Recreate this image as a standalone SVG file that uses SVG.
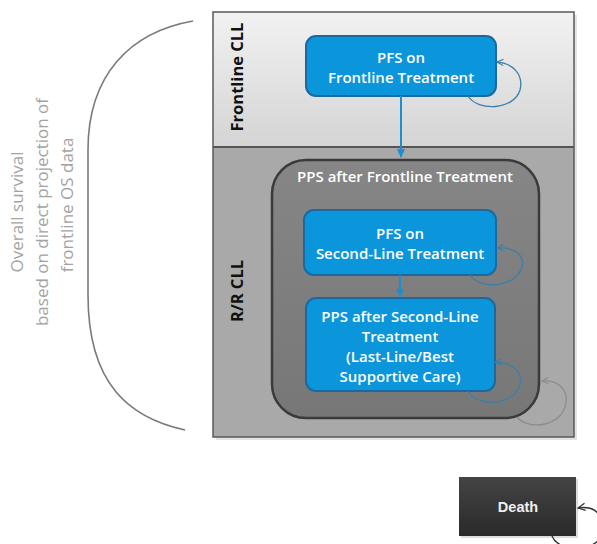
<svg xmlns="http://www.w3.org/2000/svg" width="597" height="544" viewBox="0 0 597 544">
<defs>
<linearGradient id="gFront" x1="0" y1="0" x2="0" y2="1"><stop offset="0" stop-color="#f2f2f2"/><stop offset="1" stop-color="#d4d4d4"/></linearGradient>
<linearGradient id="gInner" x1="0" y1="0" x2="0" y2="1"><stop offset="0" stop-color="#868686"/><stop offset="1" stop-color="#777"/></linearGradient>
<linearGradient id="gDeath" x1="0" y1="0" x2="0" y2="1"><stop offset="0" stop-color="#444"/><stop offset="1" stop-color="#2a2a2a"/></linearGradient>
<marker id="aBlue" viewBox="0 0 10 10" refX="8" refY="5" markerWidth="5" markerHeight="5" orient="auto"><path d="M0,1 L9,5 L0,9 Z" fill="#1b8fd2"/></marker>
<marker id="oBlue" viewBox="0 0 10 10" refX="9" refY="5" markerWidth="8" markerHeight="8" orient="auto" markerUnits="userSpaceOnUse"><path d="M1,1 L9,5 L1,9" fill="none" stroke="#3b7fa8" stroke-width="1.4"/></marker>
<marker id="oGray" viewBox="0 0 10 10" refX="9" refY="5" markerWidth="8" markerHeight="8" orient="auto" markerUnits="userSpaceOnUse"><path d="M1,1 L9,5 L1,9" fill="none" stroke="#8c8c8c" stroke-width="1.4"/></marker>
<marker id="oDark" viewBox="0 0 10 10" refX="9" refY="5" markerWidth="9" markerHeight="9" orient="auto" markerUnits="userSpaceOnUse"><path d="M1,1 L9,5 L1,9" fill="none" stroke="#333" stroke-width="1.4"/></marker>
</defs>
<style>
.box{fill:#0b95db;stroke:#1a69a0;stroke-width:2}
.bt{font-family:"Open Sans","Noto Sans",sans-serif;font-size:15px;font-weight:600;fill:#fff;text-anchor:middle}
.lbl{font-family:"Open Sans","Noto Sans",sans-serif;font-size:16.5px;font-weight:bold;fill:#111;text-anchor:middle}
.side{font-family:"Open Sans","Noto Sans",sans-serif;font-size:17px;fill:#a3a3a3;text-anchor:middle}
.loopB{fill:none;stroke:#3b7fa8;stroke-width:1.3}
</style>
<rect width="597" height="544" fill="#fff"/>

<g id="bracket">
<path d="M193,21 C130,32 88,75 88,150 L88,295 C88,385 130,418 185,430" fill="none" stroke="#7a7a7a" stroke-width="1.6"/>
<text class="side" transform="translate(23,212) rotate(-90)">Overall survival</text>
<text class="side" transform="translate(48,212) rotate(-90)">based on direct projection of</text>
<text class="side" transform="translate(73,205) rotate(-90)">frontline OS data</text>
</g>

<g id="frame">
<rect x="216" y="15" width="361" height="425" fill="#d0d0d0" opacity="0.6"/>
<rect x="213" y="12" width="361" height="135" fill="url(#gFront)"/>
<rect x="213" y="147" width="361" height="290" fill="#a9a9a9"/>
<rect x="213" y="12" width="361" height="425" fill="none" stroke="#5a5a5a" stroke-width="1.5"/>
<line x1="213" y1="147" x2="574" y2="147" stroke="#555" stroke-width="2.2"/>
<text class="lbl" transform="translate(243,77) rotate(-90)">Frontline CLL</text>
<text class="lbl" transform="translate(243,291) rotate(-90)">R/R CLL</text>
</g>

<g id="pps-frontline">
<rect x="272" y="160" width="267" height="258" rx="34" fill="url(#gInner)" stroke="#3a3a3a" stroke-width="2.5"/>
<text class="bt" x="405" y="182">PPS after Frontline Treatment</text>
</g>

<g id="pfs-frontline">
<rect class="box" x="306" y="36" width="190" height="60" rx="10"/>
<text class="bt" x="401" y="63">PFS on</text>
<text class="bt" x="401" y="83">Frontline Treatment</text>
</g>

<g id="pfs-second">
<rect class="box" x="304" y="210" width="192" height="65" rx="10"/>
<text class="bt" x="400" y="239">PFS on</text>
<text class="bt" x="400" y="259">Second-Line Treatment</text>
</g>

<g id="pps-second">
<rect class="box" x="306" y="298" width="189" height="93" rx="10"/>
<text class="bt" x="400" y="322">PPS after Second-Line</text>
<text class="bt" x="400" y="342">Treatment</text>
<text class="bt" x="400" y="362">(Last-Line/Best</text>
<text class="bt" x="400" y="382">Supportive Care)</text>
</g>

<g id="death">
<rect x="461" y="479" width="117" height="59" fill="#bbb" opacity="0.5"/>
<rect x="459" y="477" width="117" height="59" fill="url(#gDeath)"/>
<text x="518" y="512" font-family="'Liberation Sans',Arial,sans-serif" font-size="14.5" font-weight="bold" fill="#f0f0f0" text-anchor="middle">Death</text>
</g>

<g id="connectors">
<line x1="401" y1="96" x2="401" y2="157" stroke="#1b8fd2" stroke-width="2" marker-end="url(#aBlue)"/>
<line x1="400" y1="275" x2="400" y2="297" stroke="#1b8fd2" stroke-width="2" marker-end="url(#aBlue)"/>
<path class="loopB" d="M468,96 C478,112 514,110 520,90 C524,74 512,63 497,62" marker-end="url(#oBlue)"/>
<path class="loopB" d="M470,275 C480,290 516,288 522,267 C525,254 513,247 497,248" marker-end="url(#oBlue)"/>
<path class="loopB" d="M468,391 C478,408 514,406 520,384 C523,370 510,362 495,362" marker-end="url(#oBlue)"/>
<path d="M517,417 C527,430 562,428 566,403 C568,388 557,380 542,381" fill="none" stroke="#8c8c8c" stroke-width="1.3" marker-end="url(#oGray)"/>
<path d="M552,536 C560,556 610,552 603,522 C599,510 590,506 578,508" fill="none" stroke="#333" stroke-width="1.4" marker-end="url(#oDark)"/>
</g>
</svg>
